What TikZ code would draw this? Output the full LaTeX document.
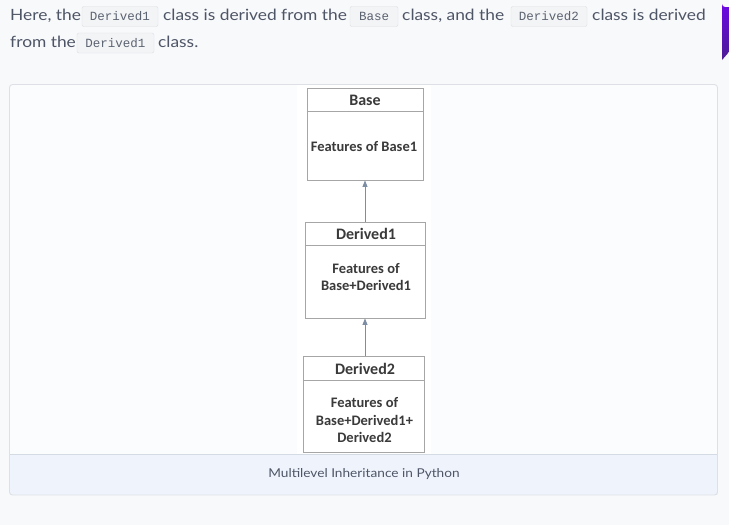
\documentclass[tikz,border=0pt]{standalone}
\usepackage{fontspec}
\usetikzlibrary{arrows.meta}
\newfontfamily\bodyf[FakeStretch=1.12]{Lato}
\newfontfamily\diagf{Carlito}
\newfontfamily\monof{Liberation Mono}
\definecolor{pagebg}{HTML}{F8F9FB}
\definecolor{cardbg}{HTML}{FBFCFD}
\definecolor{cardborder}{HTML}{DDE1E6}
\definecolor{bandbg}{HTML}{EFF4FC}
\definecolor{bandline}{HTML}{D5DBE3}
\definecolor{textcol}{HTML}{4E5566}
\definecolor{chipbg}{HTML}{F3F4F6}
\definecolor{chipborder}{HTML}{DCDFE3}
\definecolor{chiptext}{HTML}{5B6270}
\definecolor{boxline}{HTML}{A6A6A6}
\definecolor{diagtext}{HTML}{3A3A3A}
\definecolor{arrowcol}{HTML}{7D8DA3}
\definecolor{purpA}{HTML}{6D08E3}
\definecolor{purpB}{HTML}{4C1D95}
\tikzset{
  bodytext/.style={anchor=base west, inner sep=0pt, text=textcol, font=\bodyf\fontsize{15.5}{18}\selectfont},
  chip/.style={draw=chipborder, fill=chipbg, rounded corners=2pt, minimum height=20pt, inner sep=0pt, text=chiptext, font=\monof\fontsize{12.5}{14}\selectfont},
  classbox/.style={draw=boxline, fill=white, line width=0.9pt, inner sep=0pt},
  headtext/.style={inner sep=0pt, text=diagtext, font=\diagf\bfseries\fontsize{16}{18}\selectfont},
  feattext/.style={inner sep=0pt, text=diagtext, align=center, font=\diagf\bfseries\fontsize{14.5}{17.5}\selectfont},
  inh/.style={draw=arrowcol, line width=0.9pt, -{Triangle[length=6.5pt,width=5pt]}},
  sepline/.style={draw=boxline, line width=0.9pt}
}
\begin{document}
\begin{tikzpicture}[x=1pt,y=-1pt]
\useasboundingbox (0,0) rectangle (729,525);
\fill[pagebg] (0,0) rectangle (729,525);
% purple tab
\shade[top color=purpA, bottom color=purpB] (729,7) -- (725,7) arc[start angle=90,end angle=180,radius=3] -- (722,60) -- (729,52) -- cycle;
% intro text
\node[bodytext] (t1) at (10,20) {Here, the};
\node[chip, minimum width=76pt] (c1) at (120,16.5) {Derived1};
\node[bodytext] (t2) at (163,20) {class is derived from the};
\node[chip, minimum width=48pt] (c2) at (374,16.5) {Base};
\node[bodytext] (t3) at (402,20) {class, and the};
\node[chip, minimum width=76pt] (c3) at (549,16.5) {Derived2};
\node[bodytext] (t4) at (592,20) {class is derived};
\node[bodytext] (t5) at (10,47) {from the};
\node[chip, minimum width=77pt] (c4) at (115.5,43) {Derived1};
\node[bodytext] (t6) at (158,47) {class.};
% card
\fill[cardbg] (9.5,84.5) rectangle (717.5,495);
\fill[white] (297,85) rectangle (431,454.5);
\fill[bandbg] (9.5,454.5) rectangle (717.5,495);
\draw[bandline, line width=0.8pt] (9.5,454.5) -- (717.5,454.5);
\draw[cardborder, line width=0.9pt, rounded corners=3pt] (9.5,84.5) rectangle (717.5,495);
\node[inner sep=0pt, text=textcol, font=\bodyf\fontsize{12.2}{14}\selectfont] (cap) at (364,474) {Multilevel Inheritance in Python};
% class boxes
\node[classbox, minimum width=116pt, minimum height=92pt] (base) at (365,134) {};
\draw[sepline] (base.west |- 0,111) -- (base.east |- 0,111);
\node[headtext] (baseh) at (365,100) {Base};
\node[feattext] (basef) at (364,147) {Features of Base1};

\node[classbox, minimum width=120pt, minimum height=96pt] (d1) at (365,270) {};
\draw[sepline] (d1.west |- 0,245) -- (d1.east |- 0,245);
\node[headtext] (d1h) at (366,234) {Derived1};
\node[feattext] (d1f) at (366,277) {Features of\\Base+Derived1};

\node[classbox, minimum width=121pt, minimum height=96pt] (d2) at (363.5,404) {};
\draw[sepline] (d2.west |- 0,380) -- (d2.east |- 0,380);
\node[headtext] (d2h) at (365,369) {Derived2};
\node[feattext] (d2f) at (364.5,420.5) {Features of\\Base+Derived1+\\Derived2};
% inheritance arrows
\draw[inh] (d1.north) -- (base.south);
\draw[inh] (d2.north -| d1.south) -- (d1.south);
\end{tikzpicture}
\end{document}
